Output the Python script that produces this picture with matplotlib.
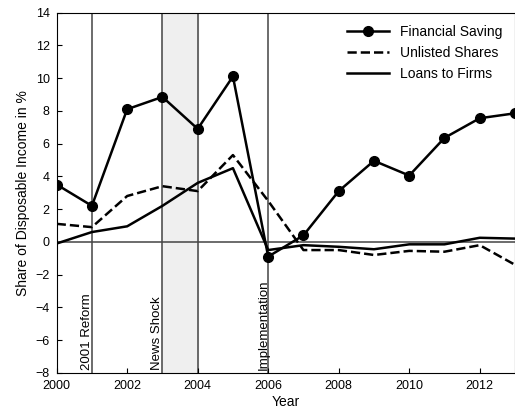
import matplotlib
matplotlib.use("Agg")
import matplotlib.pyplot as plt

years = list(range(2000, 2014))
fin_saving = [3.5, 2.2, 8.1, 8.85, 6.9, 10.1, -0.9, 0.4, 3.1, 4.95, 4.05, 6.35, 7.55, 7.85]
unlisted = [1.1, 0.9, 2.8, 3.4, 3.1, 5.3, 2.5, -0.5, -0.5, -0.8, -0.55, -0.6, -0.2, -1.4]
loans = [-0.1, 0.6, 0.95, 2.2, 3.6, 4.5, -0.5, -0.2, -0.3, -0.45, -0.15, -0.15, 0.25, 0.2]
events = [(2001, "2001 Reform"), (2003, "News Shock"), (2004, ""), (2006, "Implementation")]

plt.rcParams['font.family'] = ['Liberation Sans', 'DejaVu Sans']
fig = plt.figure(figsize=(5.15, 4.19), dpi=100)
ax = fig.add_axes([0.11, 0.11, 0.89, 0.86])

ax.axvspan(2003, 2004, color='#efefef', zorder=0)
for x, lab in events:
    ax.axvline(x, color='#444444', lw=1.1, zorder=1)
    if lab:
        ax.text(x - 0.14, -7.85, lab, rotation=90, ha='center', va='bottom', fontsize=9.5)
ax.axhline(0, color='#444444', lw=1.1, zorder=1)

ax.plot(years, fin_saving, 'k-o', lw=1.8, ms=7, label='Financial Saving', zorder=3)
ax.plot(years, unlisted, 'k--', lw=1.8, label='Unlisted Shares', zorder=3)
ax.plot(years, loans, 'k-', lw=1.8, label='Loans to Firms', zorder=3)

ax.set_xlim(2000, 2013)
ax.set_ylim(-8, 14)
ax.set_xticks(range(2000, 2013, 2))
ax.set_yticks(range(-8, 15, 2))
ax.tick_params(labelsize=9, direction='in', pad=5)
ax.set_xlabel('Year', fontsize=10, labelpad=2)
ax.set_ylabel('Share of Disposable Income in %', fontsize=10)
ax.legend(loc='upper right', fontsize=10, frameon=False, handlelength=3)

fig.savefig('out.png', dpi=100)
